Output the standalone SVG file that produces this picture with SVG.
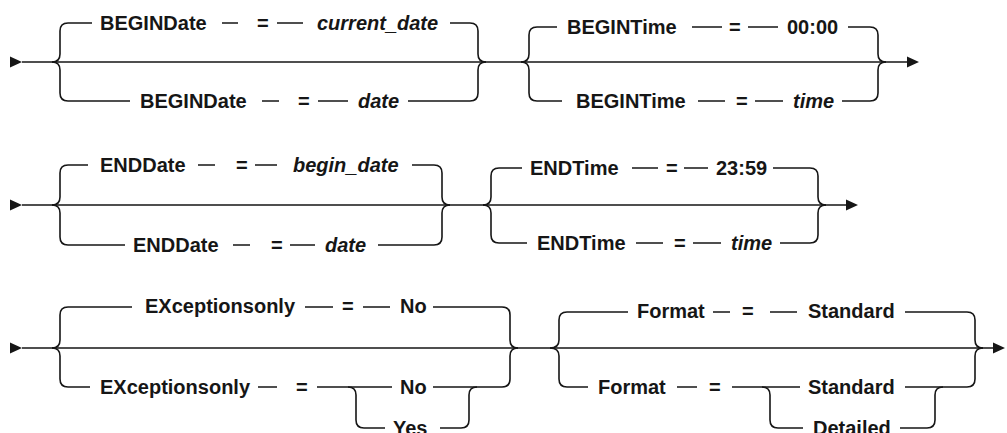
<svg xmlns="http://www.w3.org/2000/svg" width="1007" height="433" viewBox="0 0 1007 433">
<style>
.t{font-family:"Liberation Sans",Arial,sans-serif;font-size:20px;font-weight:bold;fill:#161616}
.i{font-style:italic}
.c{fill:none;stroke:#161616;stroke-width:1.6}
.a{fill:#161616;stroke:none}
</style>
<rect width="1007" height="433" fill="#ffffff"/>
<g id="connectors">
<path class="c" d="M22,62 H907 M22,205 H846 M22,348 H993"/>
<path class="a" d="M10,56.5 L22,62 L10,67.5 Z M10,199.5 L22,205 L10,210.5 Z M10,342.5 L22,348 L10,353.5 Z"/>
<path class="a" d="M907,56.5 L919,62 L907,67.5 Z M846,199.5 L858,205 L846,210.5 Z M993,342.5 L1005,348 L993,353.5 Z"/>
<!-- row 1 group 1 -->
<path class="c" d="M52,62 Q60,62 60,54 V31 Q60,23 68,23 H92 M222,23 H238 M277,23 H303 M450,23 H470 Q478,23 478,31 V54 Q478,62 486,62"/>
<path class="c" d="M52,62 Q60,62 60,70 V93 Q60,101 68,101 H130 M262,101 H279 M318,101 H348 M408,101 H470 Q478,101 478,93 V70 Q478,62 486,62"/>
<!-- row 1 group 2 -->
<path class="c" d="M521,62 Q529,62 529,54 V35 Q529,27 537,27 H557 M692,27 H722 M748,27 H778 M848,27 H870 Q878,27 878,35 V54 Q878,62 886,62"/>
<path class="c" d="M521,62 Q529,62 529,70 V93 Q529,101 537,101 H562 M698,101 H725 M755,101 H783 M842,101 H870 Q878,101 878,93 V70 Q878,62 886,62"/>
<!-- row 2 group 1 -->
<path class="c" d="M52,205 Q60,205 60,197 V173 Q60,165 68,165 H88 M198,165 H215 M255,165 H277 M412,165 H434 Q442,165 442,173 V197 Q442,205 450,205"/>
<path class="c" d="M52,205 Q60,205 60,213 V237 Q60,245 68,245 H125 M233,245 H250 M290,245 H315 M378,245 H434 Q442,245 442,237 V213 Q442,205 450,205"/>
<!-- row 2 group 2 -->
<path class="c" d="M483,205 Q491,205 491,197 V176 Q491,168 499,168 H522 M632,168 H658 M684,168 H708 M773,168 H810 Q818,168 818,176 V197 Q818,205 826,205"/>
<path class="c" d="M483,205 Q491,205 491,213 V235 Q491,243 499,243 H527 M636,243 H663 M693,243 H721 M780,243 H810 Q818,243 818,235 V213 Q818,205 826,205"/>
<!-- row 3 group 1 -->
<path class="c" d="M52,348 Q60,348 60,340 V315 Q60,307 68,307 H132 M305,307 H333 M363,307 H390 M433,307 H502 Q510,307 510,315 V340 Q510,348 518,348"/>
<path class="c" d="M52,348 Q60,348 60,356 V379 Q60,387 68,387 H90 M258,387 H277 M317,387 H392 M433,387 H502 Q510,387 510,379 V356 Q510,348 518,348"/>
<path class="c" d="M348,387 Q356,387 356,395 V420 Q356,428 364,428 H385 M440,428 H461 Q469,428 469,420 V395 Q469,387 477,387"/>
<!-- row 3 group 2 -->
<path class="c" d="M550,348 Q559,348 559,340 V320 Q559,312 567,312 H628 M713,312 H730 M770,312 H797 M905,312 H967 Q975,312 975,320 V340 Q975,348 983,348"/>
<path class="c" d="M550,348 Q559,348 559,356 V379 Q559,387 567,387 H588 M677,387 H697 M732,387 H800 M905,387 H967 Q975,387 975,379 V356 Q975,348 983,348"/>
<path class="c" d="M762,387 Q770,387 770,395 V420 Q770,428 778,428 H803 M900,428 H927 Q935,428 935,420 V395 Q935,387 943,387"/>
</g>
<g id="begindate-default"><text class="t" x="100" y="30">BEGINDate</text><text class="t" x="257" y="30">=</text><text class="t i" x="317" y="30">current_date</text></g>
<g id="begindate-value"><text class="t" x="140" y="108">BEGINDate</text><text class="t" x="298" y="108">=</text><text class="t i" x="358" y="108">date</text></g>
<g id="begintime-default"><text class="t" x="567" y="34">BEGINTime</text><text class="t" x="729" y="34">=</text><text class="t" x="787" y="34">00:00</text></g>
<g id="begintime-value"><text class="t" x="576" y="108">BEGINTime</text><text class="t" x="736" y="108">=</text><text class="t i" x="793" y="108">time</text></g>
<g id="enddate-default"><text class="t" x="100" y="172">ENDDate</text><text class="t" x="236" y="172">=</text><text class="t i" x="293" y="172">begin_date</text></g>
<g id="enddate-value"><text class="t" x="133" y="252">ENDDate</text><text class="t" x="271" y="252">=</text><text class="t i" x="325" y="252">date</text></g>
<g id="endtime-default"><text class="t" x="530" y="175">ENDTime</text><text class="t" x="666" y="175">=</text><text class="t" x="716" y="175">23:59</text></g>
<g id="endtime-value"><text class="t" x="537" y="250">ENDTime</text><text class="t" x="674" y="250">=</text><text class="t i" x="731" y="250">time</text></g>
<g id="exceptionsonly-default"><text class="t" x="145" y="313">EXceptionsonly</text><text class="t" x="342" y="313">=</text><text class="t" x="400" y="313">No</text></g>
<g id="exceptionsonly-value"><text class="t" x="100" y="394">EXceptionsonly</text><text class="t" x="296" y="394">=</text><text class="t" x="400" y="394">No</text><text class="t" x="393" y="435">Yes</text></g>
<g id="format-default"><text class="t" x="637" y="318">Format</text><text class="t" x="742" y="318">=</text><text class="t" x="808" y="318">Standard</text></g>
<g id="format-value"><text class="t" x="598" y="394">Format</text><text class="t" x="709" y="394">=</text><text class="t" x="808" y="394">Standard</text><text class="t" x="813" y="435">Detailed</text></g>
</svg>
